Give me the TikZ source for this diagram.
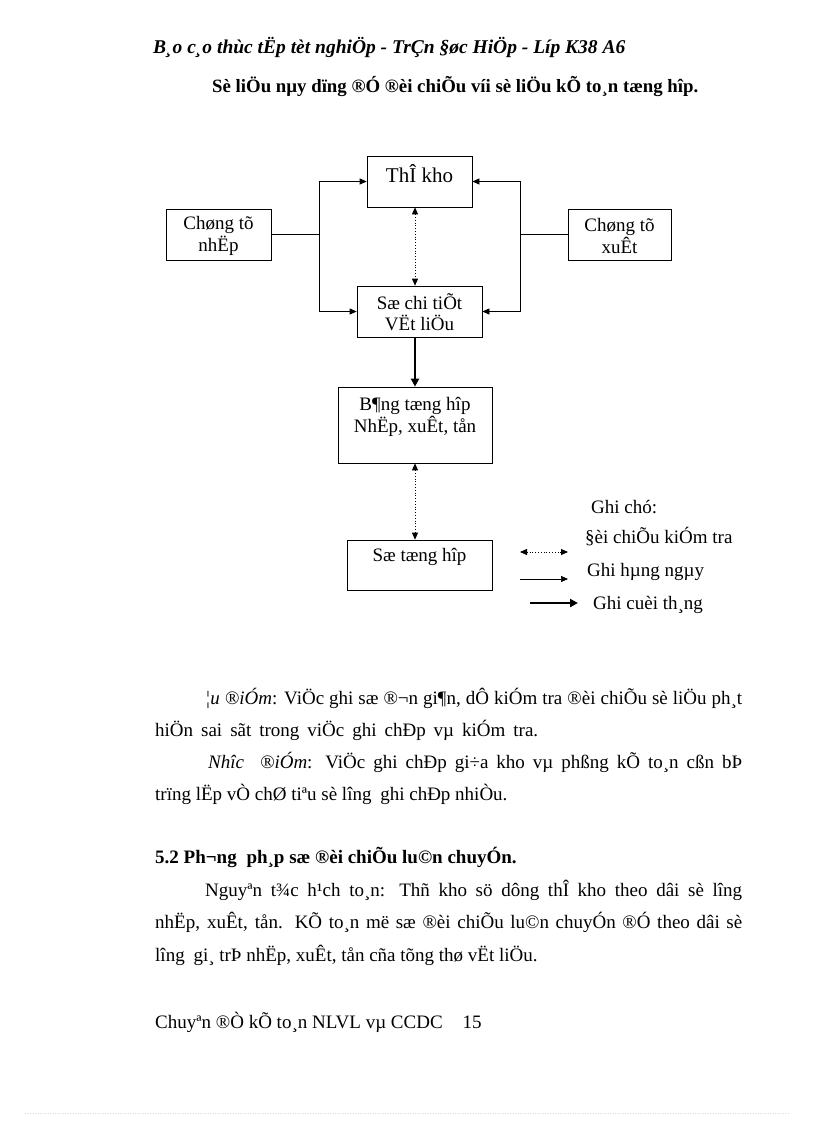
\documentclass[tikz,border=0pt]{standalone}
\usepackage{fontspec}
\setmainfont{Liberation Serif}
\usetikzlibrary{arrows.meta}
\begin{document}
\begin{tikzpicture}[x=1pt,y=-1pt,
  box/.style={draw,line width=0.7pt,inner sep=0pt,fill=none},
  boxtext/.style={align=center,inner sep=0pt,font=\fontsize{19}{21.5}\selectfont},
  txt/.style={anchor=base west,inner sep=0pt,font=\fontsize{19}{23}\selectfont},
  arr/.style={line width=0.7pt,-{Triangle[length=7pt,width=6pt]}},
  dotarr/.style={line width=0.8pt,dotted,{Triangle[length=7pt,width=6pt]}-{Triangle[length=7pt,width=6pt]}},
  thickarr/.style={line width=2.4pt,-{Triangle[length=8pt,width=8pt]}},
  plain/.style={line width=0.7pt}]
\useasboundingbox (0,0) rectangle (816,1123);
\fill[white] (0,0) rectangle (816,1123);

% header
\node[txt,font=\fontsize{19.5}{22}\selectfont\bfseries\itshape] (h1) at (153,54) {B¸o c¸o thùc tËp tèt nghiÖp - TrÇn §øc HiÖp - Líp K38 A6};
\node[txt,font=\fontsize{18.8}{22}\selectfont\bfseries] (h2) at (212,93) {Sè liÖu nµy dïng ®Ó ®èi chiÕu víi sè liÖu kÕ to¸n tæng hîp.};

% boxes
\node[box,minimum width=105pt,minimum height=51pt] (thu) at (419.5,181.5) {};
\node[boxtext,font=\fontsize{21}{23}\selectfont] (thut) at (419.5,174) {ThÎ kho};
\node[box,minimum width=105pt,minimum height=51pt] (nhap) at (218.5,234.5) {};
\node[boxtext] (nhapt) at (218.5,236) {Chøng tõ\\nhËp};
\node[box,minimum width=103pt,minimum height=51pt] (xuat) at (619.5,234.5) {};
\node[boxtext] (xuatt) at (619.5,236) {Chøng tõ\\xuÊt};
\node[box,minimum width=125pt,minimum height=51pt] (sct) at (419.5,311.5) {};
\node[boxtext] (sctt) at (419.5,312) {Sæ chi tiÕt\\VËt liÖu};
\node[box,minimum width=154pt,minimum height=76pt] (bang) at (415,425) {};
\node[boxtext] (bangt) at (415,417) {B¶ng tæng hîp\\NhËp, xuÊt, tån};
\node[box,minimum width=145pt,minimum height=50pt] (sth) at (419.5,565) {};
\node[boxtext] (stht) at (419.5,557) {Sæ tæng hîp};

% connectors
\coordinate (cx) at (415,0);
\coordinate (jl) at (319,234.5);
\coordinate (jr) at (520,234.5);
\draw[plain] (nhap.east) -- (jl);
\draw[arr] (jl) |- (thu.west);
\draw[arr] (jl) |- (sct.west);
\draw[plain] (xuat.west) -- (jr);
\draw[arr] (jr) |- (thu.east);
\draw[arr] (jr) |- (sct.east);
\draw[dotarr] (thu.south -| cx) -- (sct.north -| cx);
\draw[thickarr] (sct.south -| cx) -- (bang.north -| cx);
\draw[dotarr] (bang.south -| cx) -- (sth.north -| cx);

% legend
\node[txt] (lg0) at (591,513) {Ghi chó:};
\node[txt] (lg1) at (585,543) {§èi chiÕu kiÓm tra};
\node[txt] (lg2) at (587,576) {Ghi hµng ngµy};
\node[txt] (lg3) at (593,609) {Ghi cuèi th¸ng};
\coordinate (a1) at (520,552); \coordinate (b1) at (568,552);
\coordinate (a2) at (520,579); \coordinate (b2) at (568,579);
\coordinate (a3) at (530,603); \coordinate (b3) at (578,603);
\draw[dotarr] (a1) -- (b1);
\draw[arr] (a2) -- (b2);
\draw[thickarr,line width=2pt] (a3) -- (b3);

% body text
\node[txt] (p1a) at (205,704) {\makebox[537pt][s]{{\itshape ¦u ®iÓm}: ViÖc ghi sæ ®¬n gi¶n, dÔ kiÓm tra ®èi chiÕu sè liÖu ph¸t}};
\node[txt] (p1b) at (155,736) {\makebox[383pt][s]{hiÖn sai sãt trong viÖc ghi chÐp vµ kiÓm tra.}};
\node[txt] (p2a) at (208,768) {\makebox[534pt][s]{{\itshape Nhîc\hspace{16pt}®iÓm}: ViÖc ghi chÐp gi÷a kho vµ phßng kÕ to¸n cßn bÞ}};
\node[txt] (p2b) at (155,800) {trïng lËp vÒ chØ tiªu sè lîng\hspace{4pt} ghi chÐp nhiÒu.};
\node[txt,font=\fontsize{19}{23}\selectfont\bfseries] (sec) at (155,863) {5.2 Ph¬ng\hspace{5pt} ph¸p sæ ®èi chiÕu lu©n chuyÓn.};
\node[txt] (p3a) at (205,896) {\makebox[537pt][s]{Nguyªn t¾c h¹ch to¸n: Thñ kho sö dông thÎ kho theo dâi sè lîng}};
\node[txt] (p3b) at (155,928) {\makebox[587pt][s]{nhËp, xuÊt, tån. KÕ to¸n më sæ ®èi chiÕu lu©n chuyÓn ®Ó theo dâi sè}};
\node[txt] (p3c) at (155,961) {lîng\hspace{4pt} gi¸ trÞ nhËp, xuÊt, tån cña tõng thø vËt liÖu.};
\node[txt] (foot) at (155,1028) {Chuyªn ®Ò kÕ to¸n NLVL vµ CCDC\hspace{20pt}15};

\draw[gray!30,dotted,line width=0.5pt] (25,1113) -- (790,1113);
\end{tikzpicture}
\end{document}
